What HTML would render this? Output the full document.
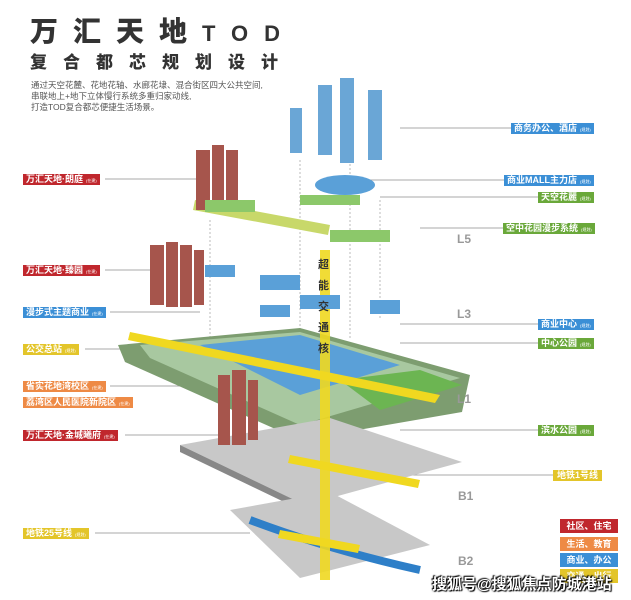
<!DOCTYPE html>
<html><head><meta charset="utf-8"><style>
body{margin:0;width:631px;height:600px;background:#fff;position:relative;overflow:hidden;font-family:"Liberation Sans","Noto Sans CJK SC",sans-serif}
.a{position:absolute;white-space:nowrap}
.lb{position:absolute;height:11px;line-height:11px;font-size:9px;font-weight:bold;color:#fff;padding:0 3px;white-space:nowrap}
.lb small{font-size:4px;font-weight:normal;margin-left:3px}
.r{background:#c0272d}.b{background:#3b8fd6}.g{background:#6aa83a}.y{background:#e3c52a}.o{background:#ee8a45}
.lv{position:absolute;font-size:12px;font-weight:bold;color:#999}
.leg{position:absolute;left:560px;width:58px;height:14px;line-height:14px;font-size:9px;color:#fff;text-align:center;font-weight:bold}
</style></head><body>
<div class="a" style="left:30px;top:10px;font-size:28px;font-weight:900;color:#333;letter-spacing:15px">万汇天地<span style="font-size:22px;letter-spacing:16px">TOD</span></div>
<div class="a" style="left:30px;top:48px;font-size:17px;font-weight:900;color:#333;letter-spacing:16px">复合都芯规划设计</div>
<div class="a" style="left:31px;top:80px;font-size:8.5px;line-height:11px;color:#555">通过天空花麓、花地花轴、水廊花埭、混合街区四大公共空间,<br>串联地上+地下立体慢行系统多重归家动线,<br>打造TOD复合都芯便捷生活场景。</div>
<svg class="a" style="left:0;top:0" width="631" height="600">
<g stroke="#aaa" stroke-width="1">
<line x1="105" y1="179" x2="200" y2="179"/><line x1="105" y1="270" x2="155" y2="270"/>
<line x1="110" y1="312" x2="200" y2="312"/><line x1="85" y1="349" x2="130" y2="349"/>
<line x1="110" y1="386" x2="220" y2="386"/><line x1="125" y1="435" x2="220" y2="435"/>
<line x1="95" y1="533" x2="250" y2="533"/>
<line x1="400" y1="128" x2="511" y2="128"/><line x1="370" y1="180" x2="504" y2="180"/>
<line x1="380" y1="197" x2="538" y2="197"/><line x1="420" y1="228" x2="503" y2="228"/>
<line x1="400" y1="324" x2="538" y2="324"/><line x1="400" y1="343" x2="538" y2="343"/>
<line x1="400" y1="430" x2="538" y2="430"/><line x1="380" y1="475" x2="553" y2="475"/>
</g>
<g stroke="#bbb" stroke-dasharray="2,2"><line x1="300" y1="160" x2="300" y2="330"/><line x1="350" y1="160" x2="350" y2="340"/><line x1="210" y1="220" x2="210" y2="340"/><line x1="380" y1="200" x2="380" y2="320"/></g>
<polygon points="118,345 300,328 470,375 462,412 300,440 125,362" fill="#7d9d70"/>
<polygon points="140,345 300,332 460,378 300,425 150,358" fill="#a8c8a0"/>
<polygon points="200,345 300,335 400,365 300,395" fill="#5aa0d8"/>
<polygon points="340,380 420,370 462,385 380,410" fill="#6cb552"/>
<polygon points="180,445 330,418 462,462 305,505" fill="#c8c8c8"/>
<polygon points="180,445 305,505 305,512 180,452" fill="#888"/>
<polygon points="230,510 330,492 430,545 300,578" fill="#c8c8c8"/>
<path d="M250,520 Q330,550 420,570" stroke="#2e7fc8" stroke-width="8" fill="none"/>
<rect x="320" y="250" width="10" height="330" fill="#f0d820" opacity=".9"/>
<polygon points="130,332 440,395 435,403 128,340" fill="#f0d820"/>
<polygon points="290,455 420,480 418,488 288,463" fill="#f0d820"/>
<polygon points="280,530 360,545 358,553 278,538" fill="#f0d820"/>
<polygon points="195,200 330,225 328,235 193,210" fill="#c8d86a"/>
<g fill="#a6554c"><rect x="196" y="150" width="14" height="60"/><rect x="212" y="145" width="12" height="65"/><rect x="226" y="150" width="12" height="60"/>
<rect x="150" y="245" width="14" height="60"/><rect x="166" y="242" width="12" height="65"/><rect x="180" y="245" width="12" height="62"/><rect x="194" y="250" width="10" height="55"/>
<rect x="218" y="375" width="12" height="70"/><rect x="232" y="370" width="14" height="75"/><rect x="248" y="380" width="10" height="60"/></g>
<g fill="#6aa6d6"><rect x="290" y="108" width="12" height="45"/><rect x="318" y="85" width="14" height="70"/><rect x="340" y="78" width="14" height="85"/><rect x="368" y="90" width="14" height="70"/></g>
<ellipse cx="345" cy="185" rx="30" ry="10" fill="#5aa0d8"/>
<g fill="#5aa0d8"><rect x="205" y="265" width="30" height="12"/><rect x="260" y="275" width="40" height="15"/><rect x="300" y="295" width="40" height="14"/><rect x="370" y="300" width="30" height="14"/><rect x="260" y="305" width="30" height="12"/></g>
<g fill="#8cc86a"><rect x="205" y="200" width="50" height="12"/><rect x="330" y="230" width="60" height="12"/><rect x="300" y="195" width="60" height="10"/></g>
</svg>
<div class="a" style="left:318px;top:255px;width:14px;font-size:11px;font-weight:bold;line-height:21px;color:#333">超<br>能<br>交<br>通<br>核</div>
<div class="lv" style="left:457px;top:232px">L5</div>
<div class="lv" style="left:457px;top:307px">L3</div>
<div class="lv" style="left:457px;top:392px">L1</div>
<div class="lv" style="left:458px;top:489px">B1</div>
<div class="lv" style="left:458px;top:554px">B2</div>
<div class="lb r" style="left:23px;top:174px">万汇天地·朗庭<small>(在建)</small></div>
<div class="lb r" style="left:23px;top:265px">万汇天地·臻园<small>(在建)</small></div>
<div class="lb b" style="left:23px;top:307px">漫步式主题商业<small>(在建)</small></div>
<div class="lb y" style="left:23px;top:344px">公交总站<small>(规划)</small></div>
<div class="lb o" style="left:23px;top:381px">省实花地湾校区<small>(在建)</small></div>
<div class="lb o" style="left:23px;top:397px">荔湾区人民医院新院区<small>(在建)</small></div>
<div class="lb r" style="left:23px;top:430px">万汇天地·金城曦府<small>(在建)</small></div>
<div class="lb y" style="left:23px;top:528px">地铁25号线<small>(规划)</small></div>
<div class="lb b" style="left:511px;top:123px">商务办公、酒店<small>(规划)</small></div>
<div class="lb b" style="left:504px;top:175px">商业MALL主力店<small>(规划)</small></div>
<div class="lb g" style="left:538px;top:192px">天空花麗<small>(规划)</small></div>
<div class="lb g" style="left:503px;top:223px">空中花园漫步系统<small>(规划)</small></div>
<div class="lb b" style="left:538px;top:319px">商业中心<small>(规划)</small></div>
<div class="lb g" style="left:538px;top:338px">中心公园<small>(规划)</small></div>
<div class="lb g" style="left:538px;top:425px">滨水公园<small>(规划)</small></div>
<div class="lb y" style="left:553px;top:470px;padding:0 4px">地铁1号线</div>
<div class="leg r" style="top:519px">社区、住宅</div>
<div class="leg o" style="top:537px">生活、教育</div>
<div class="leg b" style="top:553px">商业、办公</div>
<div class="leg y" style="top:569px">交通、出行</div>
<div class="a" style="left:432px;top:573px;font-size:15px;font-weight:bold;color:#fff;text-shadow:0 0 2px #000,1px 1px 1px #000,-1px -1px 1px #000">搜狐号@搜狐焦点防城港站</div>
</body></html>
